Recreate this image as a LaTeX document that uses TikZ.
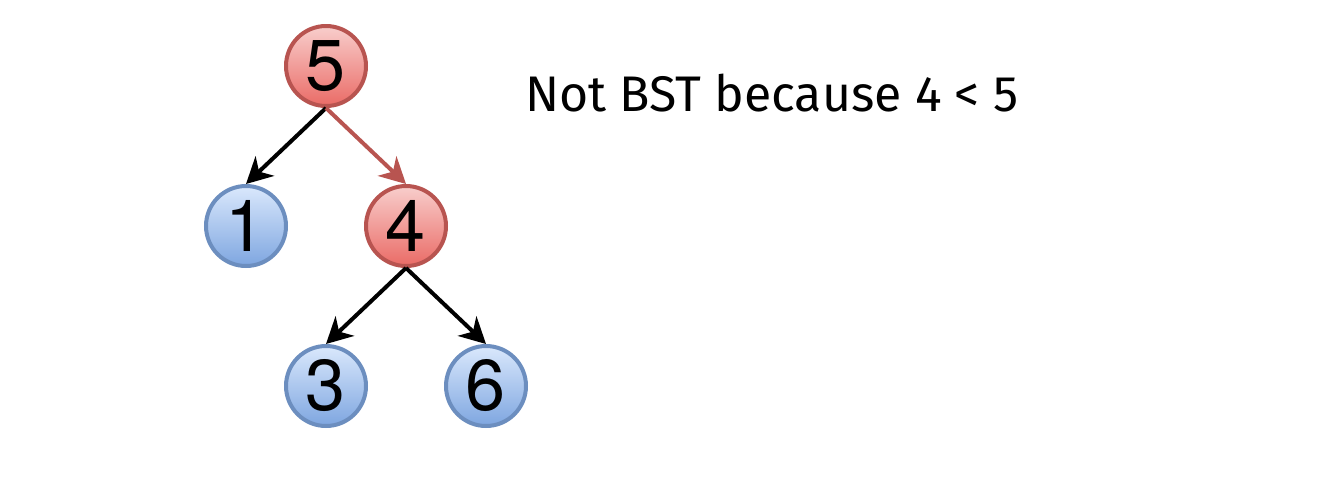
\documentclass[tikz,border=0pt]{standalone}
\usepackage{fontspec}
\setmainfont{TeX Gyre Heros}
\newfontfamily\notefont{Fira Sans}
\usetikzlibrary{arrows.meta}
\tikzset{
  bnode/.style={circle, minimum size=80pt, inner sep=0pt, line width=4pt,
    font=\fontsize{72}{72}\selectfont},
  rednode/.style={bnode, draw={rgb,255:red,184;green,84;blue,80},
    top color={rgb,255:red,248;green,206;blue,204}, bottom color={rgb,255:red,234;green,107;blue,102}},
  bluenode/.style={bnode, draw={rgb,255:red,108;green,142;blue,191},
    top color={rgb,255:red,218;green,232;blue,252}, bottom color={rgb,255:red,126;green,166;blue,224}},
  edge/.style={line width=4pt, -{Stealth[length=26pt,width=27pt,inset=8pt]}},
  rededge/.style={edge, draw={rgb,255:red,184;green,84;blue,80}, fill={rgb,255:red,184;green,84;blue,80}}
}
\begin{document}
\begin{tikzpicture}[x=1pt,y=-1pt]
\useasboundingbox (0,0) rectangle (1334,488);
\node[rednode] (n5) at (326,66) {5};
\node[bluenode] (n1) at (246,226) {1};
\node[rednode] (n4) at (406,226) {4};
\node[bluenode] (n3) at (326,386) {3};
\node[bluenode] (n6) at (486,386) {6};
\draw[edge] (n5.south) -- (n1.north);
\draw[rededge] (n5.south) -- (n4.north);
\draw[edge] (n4.south) -- (n3.north);
\draw[edge] (n4.south) -- (n6.north);
\node[anchor=base west, inner sep=0pt, font=\notefont\fontsize{50}{50}\selectfont] (note) at (525,111) {Not BST because 4 < 5};
\end{tikzpicture}
\end{document}
